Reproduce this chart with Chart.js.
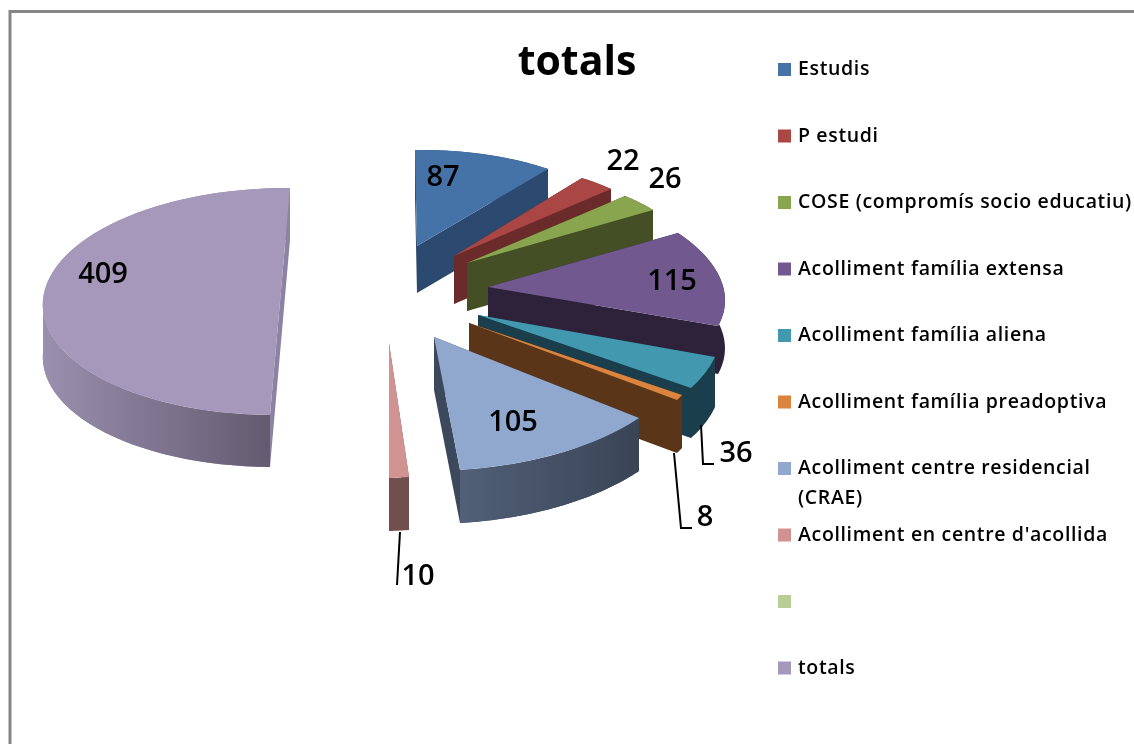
<!DOCTYPE html>
<html><head><meta charset="utf-8">
<style>html,body{margin:0;padding:0;background:#fff}canvas{display:block}</style>
<script src="https://cdn.jsdelivr.net/npm/chart.js@4/dist/chart.umd.min.js"></script>
</head><body><canvas id="c" width="1134" height="744"></canvas>
<script>
const chartTitle = 'totals';
const categories = ['Estudis','P estudi','COSE (compromís socio educatiu)','Acolliment família extensa','Acolliment família aliena','Acolliment família preadoptiva','Acolliment centre residencial (CRAE)',"Acolliment en centre d'acollida",'','totals'];
const values = [87,22,26,115,36,8,105,10,0,409];
const legendLines = [['Estudis'],['P estudi'],['COSE (compromís socio educatiu)'],['Acolliment família extensa'],['Acolliment família aliena'],['Acolliment família preadoptiva'],['Acolliment centre residencial','(CRAE)'],["Acolliment en centre d'acollida"],[''],['totals']];
const sliceColors = ['#4572A7','#AA4643','#89A54E','#71588F','#4198AF','#DB843D','#91A8CE','#D19392','#B9CD96','#A698BA'];
const sideColors = ['#2C4A70','#6B2B2A','#444F25','#2E223A','#1A3E4B','#5A3518','#3C495C','#714F4F','#777','#8C82A3'];
const wallGradients = {6:['#515F78','#394555'],9:['#9A8FAE','#5F566B']};
// placement of each exploded, tilted face on the page (style only; angles come from the chart's arcs)
const faceFrames = [
 {tip:[417,246],start:[415,150],end:[548,169],depth:47},
 {tip:[454,256],start:[582,178],end:[611,189],depth:48},
 {tip:[467,263],start:[625,196],end:[653,210],depth:48},
 {tip:[488,287],start:[678,233],end:[718,326],depth:48},
 {tip:[478,315],start:[715,357],end:[691,388],depth:50},
 {tip:[469,323],start:[682,395],end:[677,400],depth:53},
 {tip:[434,337],start:[639,418],end:[460,470],depth:53},
 {tip:[389,343],start:[409,477],end:[389,478],depth:53},
 null,
 {tip:[280,301.5],start:[270,415],mid:[43,300],depth:52}
];
const labelSpots = [[443,178],[623,162],[665,180],[672,282],[736,454],[705,518],[513,423],[418,577],null,[103,275]];
const leaders = [[[701,425],[703,464],[714,464]],[[674,453],[681,528],[692,528]],[[400,532],[397,585]]];
const legendX = 778, legendTop = 69.5, legendStep = 66.5, swatch = 13;
const labelFont = '600 29px "Open Sans"', legendFont = '600 19.5px "Open Sans"', titleFont = '700 41px "Open Sans"';

function solve(u1,p1,u2,p2){ // A*u1=p1, A*u2=p2
  const det=u1[0]*u2[1]-u2[0]*u1[1];
  return [(p1[0]*u2[1]-p2[0]*u1[1])/det,(p2[0]*u1[0]-p1[0]*u2[0])/det,
          (p1[1]*u2[1]-p2[1]*u1[1])/det,(p2[1]*u1[0]-p1[1]*u2[0])/det];
}
function matrixFor(el,f){
  const a1=el.startAngle,a2=el.endAngle,u=a=>[Math.cos(a),Math.sin(a)];
  const rel=p=>[p[0]-f.tip[0],p[1]-f.tip[1]];
  if(f.mid) return solve(u(a1),rel(f.start),u((a1+a2)/2),rel(f.mid));
  return solve(u(a1),rel(f.start),u(a2),rel(f.end));
}
function strip(ctx,line,depth){
  ctx.beginPath();line.forEach((p,k)=>k?ctx.lineTo(p[0],p[1]):ctx.moveTo(p[0],p[1]));
  line.slice().reverse().forEach(p=>ctx.lineTo(p[0],p[1]+depth));ctx.closePath();ctx.fill();
}
const pie3d = {
  id:'pie3d',
  beforeDatasetsDraw(chart){
    const ctx=chart.ctx, arcs=chart.getDatasetMeta(0).data;
    ctx.save();ctx.fillStyle='#fff';ctx.fillRect(0,0,1134,744);
    ctx.strokeStyle='#868686';ctx.lineWidth=3;ctx.beginPath();ctx.moveTo(10,744);ctx.lineTo(10,11.5);ctx.lineTo(1134,11.5);ctx.stroke();ctx.restore();
    arcs.forEach((el,i)=>{
      const f=faceFrames[i]; if(!f||el.circumference===0) return;
      const m=matrixFor(el,f), R=el.outerRadius;
      const pts=[];const n=60;
      for(let k=0;k<=n;k++){const a=el.startAngle+(el.endAngle-el.startAngle)*k/n,c=Math.cos(a),s=Math.sin(a);
        pts.push([f.tip[0]+m[0]*c+m[1]*s,f.tip[1]+m[2]*c+m[3]*s]);}
      ctx.save();
      ctx.fillStyle=sideColors[i];
      strip(ctx,[f.tip,pts[0]],f.depth);
      strip(ctx,[f.tip,pts[n]],f.depth);
      strip(ctx,pts,f.depth);
      const wg=wallGradients[i];
      if(wg){
        const xs=pts.map(p=>p[0]),g=ctx.createLinearGradient(Math.min(...xs),0,Math.max(...xs),0);
        g.addColorStop(0,wg[0]);g.addColorStop(1,wg[1]);ctx.fillStyle=g;
        strip(ctx,i===9?pts.slice(0,31):pts,f.depth);
      }
      ctx.transform(m[0]/R,m[2]/R,m[1]/R,m[3]/R,f.tip[0]-(m[0]*el.x+m[1]*el.y)/R,f.tip[1]-(m[2]*el.x+m[3]*el.y)/R);
      el.draw(ctx);
      ctx.restore();
    });
    return false;
  },
  afterDraw(chart){
    const ctx=chart.ctx;
    ctx.save();
    ctx.strokeStyle='#000';ctx.lineWidth=2;
    leaders.forEach(l=>{ctx.beginPath();l.forEach((p,k)=>k?ctx.lineTo(p[0],p[1]):ctx.moveTo(p[0],p[1]));ctx.stroke();});
    ctx.fillStyle='#000';ctx.textBaseline='middle';ctx.textAlign='center';
    ctx.font=titleFont;ctx.fillText(chartTitle,577,63);
    ctx.font=labelFont;
    values.forEach((v,i)=>{if(labelSpots[i]&&v) ctx.fillText(String(v),labelSpots[i][0],labelSpots[i][1]);});
    ctx.textAlign='left';ctx.font=legendFont;ctx.letterSpacing='0.65px';
    categories.forEach((c,i)=>{
      const y=legendTop+legendStep*i;
      ctx.fillStyle=sliceColors[i];ctx.fillRect(legendX,y-swatch/2,swatch,swatch);
      ctx.fillStyle='#000';
      legendLines[i].forEach((t,k)=>{if(t)ctx.fillText(t,798,y+k*30);});
    });
    ctx.restore();
  }
};
new Chart(document.getElementById('c'),{
  type:'pie',
  data:{labels:categories,datasets:[{data:values,backgroundColor:sliceColors,borderWidth:0,hoverOffset:0}]},
  options:{responsive:false,animation:false,plugins:{legend:{display:false},title:{display:false},tooltip:{enabled:false}},events:[]},
  plugins:[pie3d]
});
</script></body></html>
